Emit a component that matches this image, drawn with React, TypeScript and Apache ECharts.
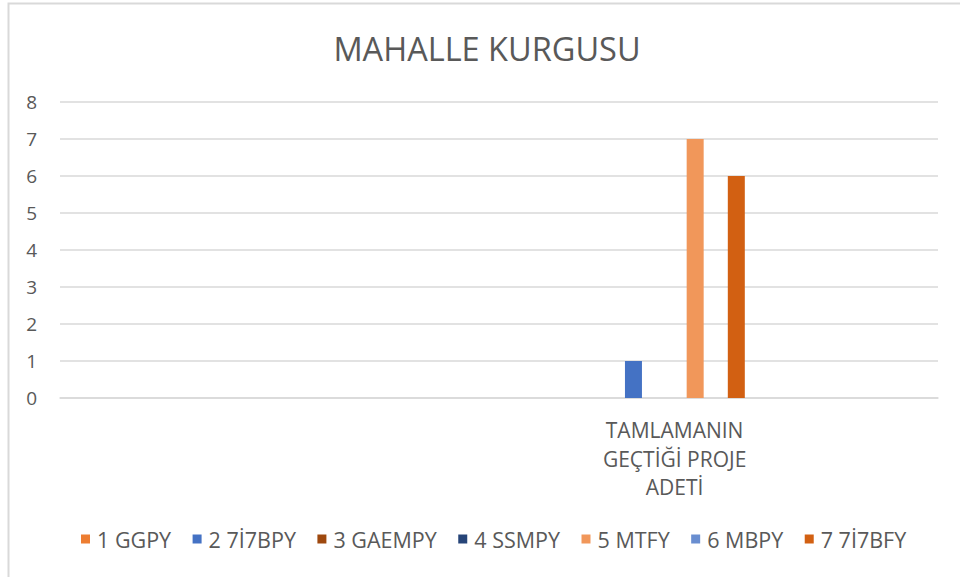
import React, { useEffect, useRef } from "react";
import * as echarts from "echarts";

const categories = ["", "", "", "TAMLAMANIN\nGEÇTİĞİ PROJE\nADETİ", ""];
const seriesNames = ["1 GGPY", "2 7İ7BPY", "3 GAEMPY", "4 SSMPY", "5 MTFY", "6 MBPY", "7 7İ7BFY"];
const seriesColors = ["#ED7D31", "#4472C4", "#9E480E", "#264478", "#F1975A", "#698ED0", "#D26012"];
const seriesValues: number[][] = [
  [0, 0, 0, 0, 0],
  [0, 0, 0, 1, 0],
  [0, 0, 0, 0, 0],
  [0, 0, 0, 0, 0],
  [0, 0, 0, 7, 0],
  [0, 0, 0, 0, 0],
  [0, 0, 0, 6, 0],
];
const yTicks = { min: 0, max: 8, interval: 1 };
const titleText = "MAHALLE KURGUSU";

const FONT = "'Open Sans', 'Noto Sans', sans-serif";

export default function App() {
  const ref = useRef<HTMLDivElement>(null);
  useEffect(() => {
    if (!ref.current) return;
    const chart = echarts.init(ref.current, undefined, { renderer: "svg" });
    chart.setOption({
      animation: false,
      backgroundColor: "#ffffff",
      textStyle: { fontFamily: FONT },
      graphic: [
        {
          type: "polyline",
          shape: { points: [[8.5, 577], [8.5, 3.5], [960, 3.5]] },
          style: { stroke: "#D9D9D9", lineWidth: 2, fill: "none" },
          silent: true,
        },
        {
          type: "text",
          x: 487,
          y: 48,
          style: {
            text: titleText,
            textAlign: "center",
            textVerticalAlign: "middle",
            fontFamily: FONT,
            fontSize: 32.5,
            fill: "#595959",
          },
          silent: true,
        },
      ],
      legend: {
        bottom: 22,
        left: 76,
        itemWidth: 9,
        itemHeight: 9,
        itemGap: 21.5,
        icon: "rect",
        textStyle: { fontFamily: FONT, fontSize: 21.5, color: "#595959", padding: [0, 0, 0, 2] },
        data: seriesNames,
      },
      grid: { left: 60, right: 22, top: 102, bottom: 179, containLabel: false },
      xAxis: {
        type: "category",
        data: categories,
        axisLine: { show: true, lineStyle: { color: "#D9D9D9", width: 1.5 } },
        axisTick: { show: false },
        axisLabel: {
          interval: 0,
          margin: 18,
          fontFamily: FONT,
          fontSize: 21,
          lineHeight: 28.5,
          color: "#595959",
        },
      },
      yAxis: {
        type: "value",
        min: yTicks.min,
        max: yTicks.max,
        interval: yTicks.interval,
        axisLine: { show: false },
        axisTick: { show: false },
        splitLine: { lineStyle: { color: "#D9D9D9", width: 1.5 } },
        axisLabel: { fontFamily: FONT, fontSize: 19, color: "#595959", margin: 23 },
      },
      series: seriesNames.map((name, i) => ({
        name,
        type: "bar",
        data: seriesValues[i],
        barWidth: 17,
        barGap: "21%",
        itemStyle: { color: seriesColors[i] },
      })),
    });
    return () => chart.dispose();
  }, []);
  return (
    <div
      ref={ref}
      style={{ position: "fixed", left: 0, top: 0, width: 960, height: 577, background: "#fff" }}
    />
  );
}
